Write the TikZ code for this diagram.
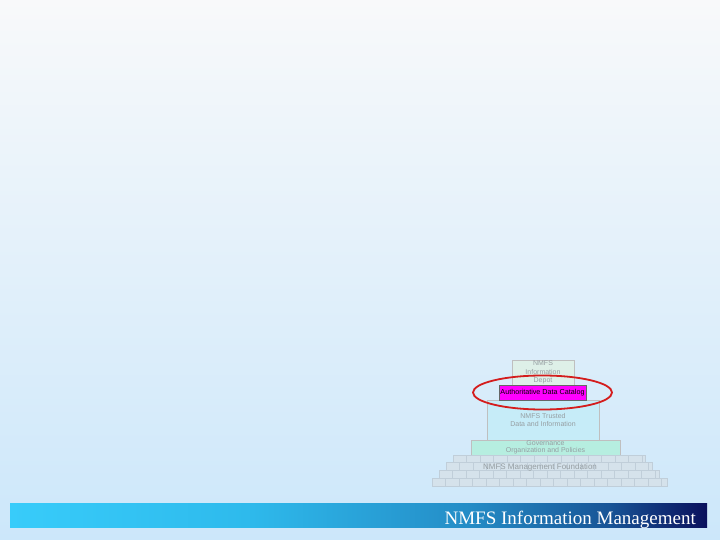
\documentclass[tikz,border=0pt]{standalone}
\usepackage{fontspec}
\setmainfont{Liberation Serif}
\newfontfamily\pyrfont{Liberation Sans}
\usepackage{tikz}
\definecolor{bgTop}{RGB}{248, 249, 250}
\definecolor{bgBottom}{RGB}{204, 231, 250}
\definecolor{bannerA}{RGB}{56, 204, 250}
\definecolor{bannerB}{RGB}{46, 186, 236}
\definecolor{bannerC}{RGB}{36, 140, 198}
\definecolor{bannerD}{RGB}{24, 84, 150}
\definecolor{bannerE}{RGB}{10, 16, 92}
\definecolor{depotFill}{RGB}{222, 240, 232}
\definecolor{trustFill}{RGB}{198, 236, 248}
\definecolor{govFill}{RGB}{182, 238, 224}
\definecolor{catalogFill}{RGB}{255, 0, 255}
\definecolor{brickFill}{RGB}{213, 226, 235}
\definecolor{brickLine}{RGB}{192, 206, 217}
\definecolor{layerText}{RGB}{150, 158, 162}
\definecolor{ringRed}{RGB}{212, 28, 28}
\pgfdeclarehorizontalshading{bannershade}{100bp}{color(0bp)=(bannerA); color(25bp)=(bannerA); color(42bp)=(bannerB); color(58bp)=(bannerC); color(68bp)=(bannerD); color(75bp)=(bannerE); color(100bp)=(bannerE)}

\begin{document}
\begin{tikzpicture}
  [
    x=1pt, y=-1pt,
    Layer/.style={rectangle, draw=black!25, thick, inner sep=0pt, align=center, text=layerText, font=\pyrfont\fontsize{7}{8.5}\selectfont},
    Catalog/.style={rectangle, draw=black!60, fill=catalogFill, inner sep=0pt, minimum width=87pt, minimum height=15pt, font=\pyrfont\fontsize{7.2}{8}\selectfont},
    Brick/.style={fill=brickFill, draw=brickLine, line width=0.6pt}
  ]
  \useasboundingbox (0,0) rectangle (720,540);
  \shade[top color=bgTop, bottom color=bgBottom] (0,0) rectangle (720,540);

  % Nodes
  \node[Layer, fill=depotFill, minimum width=62pt, minimum height=25pt] (depot) at (543, 372.5) {NMFS\\Information\\Depot};
  \node[Layer, fill=trustFill, minimum width=112pt, minimum height=40pt] (trusted) at (543, 420) {NMFS Trusted\\Data and Information};
  \node[Layer, fill=govFill, minimum width=149pt, minimum height=15pt, font=\pyrfont\fontsize{7}{7.5}\selectfont] (governance) at (545.5, 447.5) {Governance\\Organization and Policies};
  \node[Catalog] (catalog) at (542.5, 392.5) {Authoritative Data Catalog};

  % Bricks
  \foreach \r/\xl/\xr in {0/453/645, 1/446/652, 2/439/659, 3/432/667}{
    \pgfmathsetmacro\yt{455+7.75*\r}
    \draw[Brick] (\xl,\yt) rectangle (\xr,\yt+7.75);
    \begin{scope}
      \clip (\xl,\yt) rectangle (\xr,\yt+7.75);
      \foreach \k in {1,...,17}
        \draw[brickLine, line width=0.6pt] ({\xl+\k*13.5},\yt) -- ++(0,7.75);
    \end{scope}
  }
  \node[text=layerText, font=\pyrfont\fontsize{8}{9}\selectfont] (base) at (540, 467) {NMFS Management Foundation};

  % Ring
  \draw[ringRed, line width=1.8pt] (catalog.center) ellipse (69.5 and 17);

  % Banner
  \shade[shading=bannershade] (10,503) rectangle (707,527);
  \node[anchor=base east, text=white, font=\fontsize{19}{20}\selectfont, inner sep=0pt] (title) at (696, 524) {NMFS Information Management};

\end{tikzpicture}
\end{document}
